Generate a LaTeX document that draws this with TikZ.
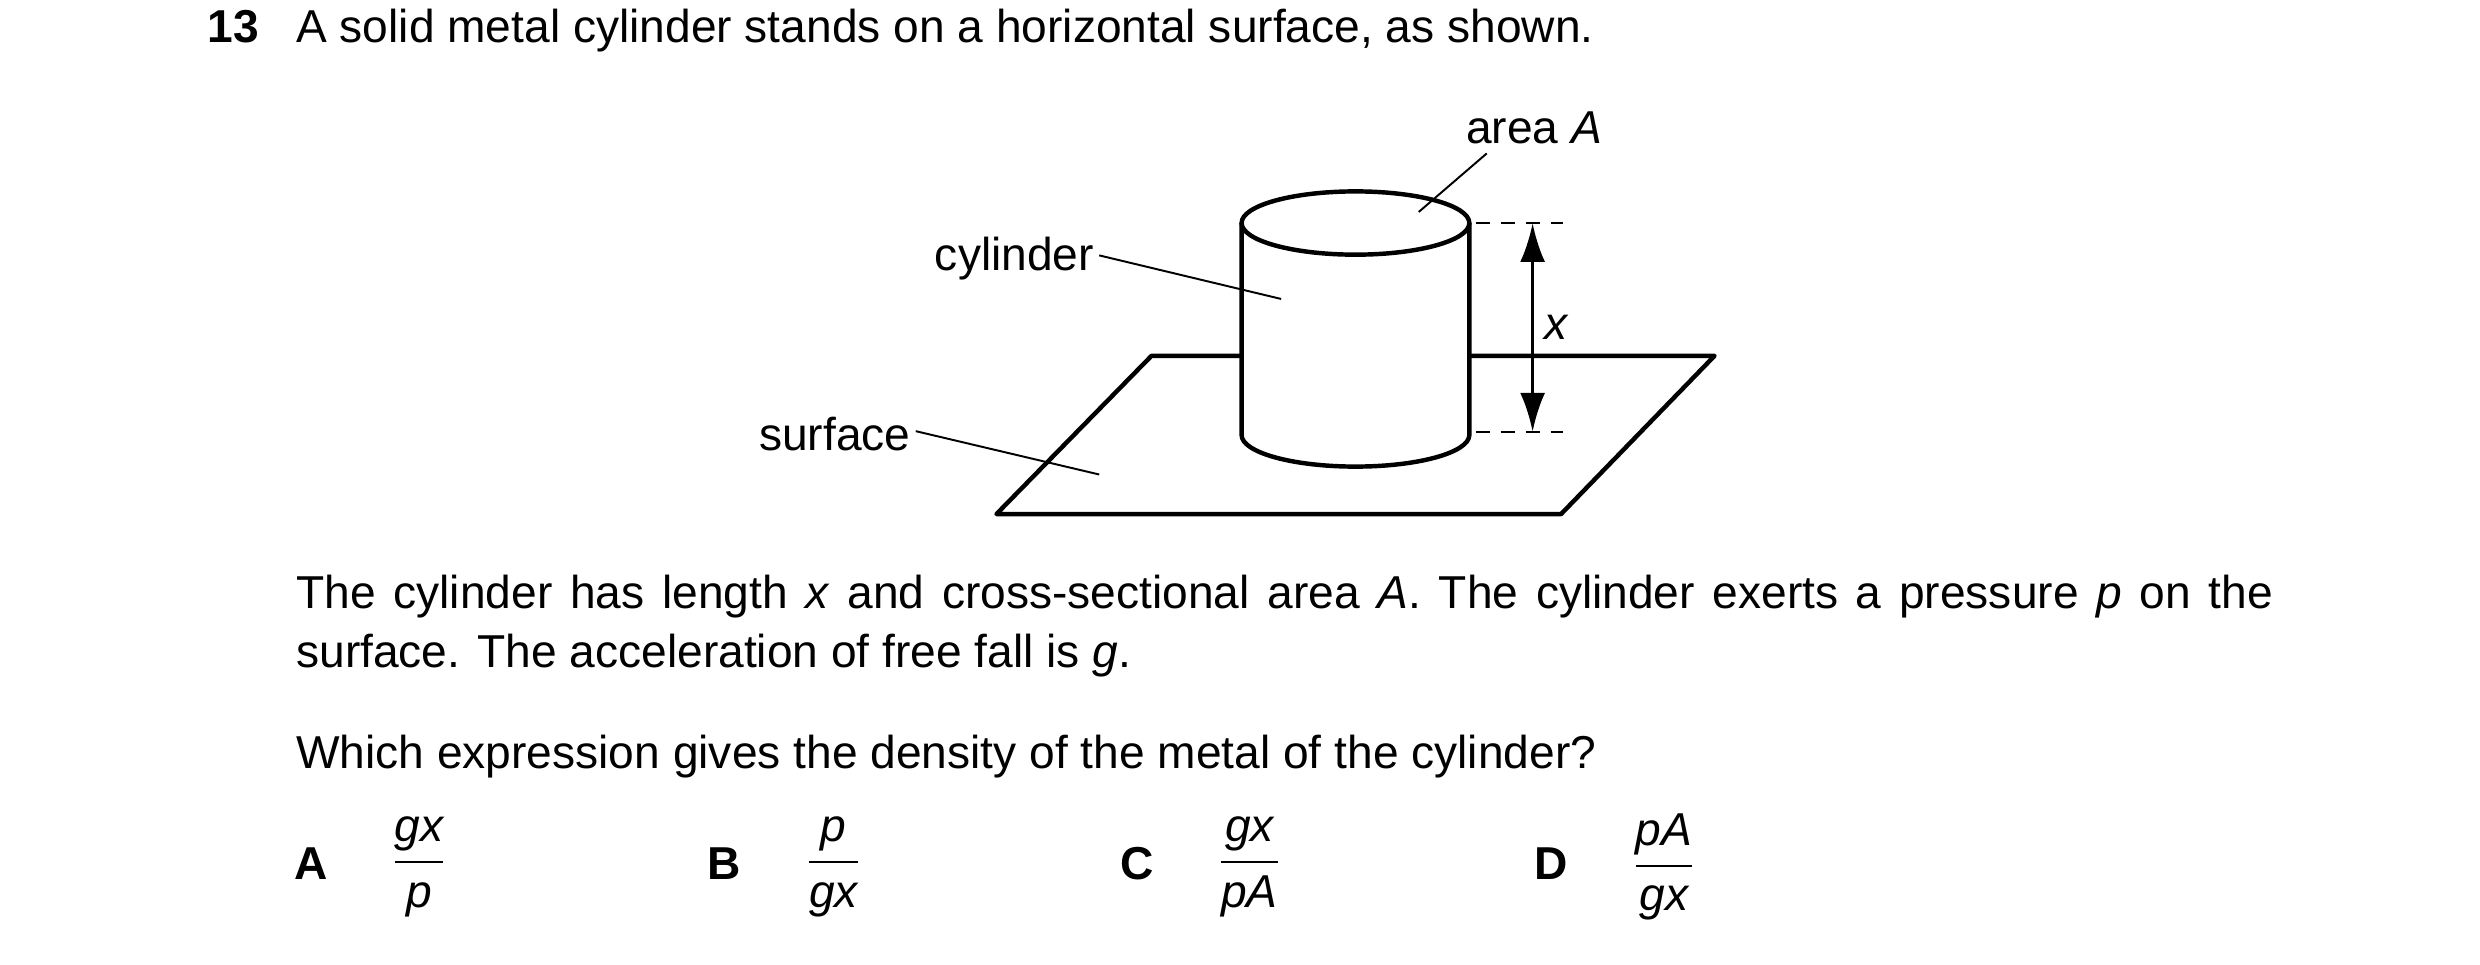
\documentclass[tikz,border=0pt]{standalone}
\usepackage{fontspec}
\setmainfont{Liberation Sans}
\usepackage{amsmath}
\usetikzlibrary{arrows.meta}
\begin{document}
\begin{tikzpicture}[x=0.02cm,y=-0.02cm,
  every node/.style={font=\fontsize{16.6}{20}\selectfont,inner sep=0pt},
  outline/.style={line width=1.6pt,line join=round},
  leader/.style={line width=0.7pt},
  dimline/.style={line width=0.7pt,dash pattern=on 5pt off 4pt},
  >=latex]
  \useasboundingbox (0,0) rectangle (1568,610);
  % heading
  \node[font=\fontsize{16.6}{20}\selectfont\bfseries,anchor=base west] (num) at (131,27) {13};
  \node[anchor=base west] (q) at (187,27) {A solid metal cylinder stands on a horizontal surface, as shown.};
  % surface
  \coordinate (s1) at (630,325); \coordinate (s2) at (987,325);
  \coordinate (s3) at (1084,225); \coordinate (s4) at (728,225);
  \draw[outline] (785,225) -- (s4) -- (s1) -- (s2) -- (s3) -- (929,225);
  % cylinder
  \draw[outline,fill=white] (785,141) -- (785,275) arc[start angle=180,end angle=0,x radius=72,y radius=20]
    -- (929,141);
  \draw[outline] (857,141) ellipse[x radius=72,y radius=20];
  % dimension
  \coordinate (t1) at (933,141); \coordinate (t2) at (988,141);
  \coordinate (b1) at (933,273); \coordinate (b2) at (988,273);
  \draw[dimline] (t1) -- (t2);
  \draw[dimline] (b1) -- (b2);
  \coordinate (at) at (969,141); \coordinate (ab) at (969,273);
  \draw[line width=1.3pt,<->,>={Latex[length=14pt,width=9pt]}] (at) -- (ab);
  \node[anchor=west] (xl) at (976,207) {\itshape x};
  % labels
  \node[anchor=base] (areal) at (970,91) {area \textit{A}};
  \coordinate (ap) at (897,134);
  \draw[leader] (940,97) -- (ap);
  \node[anchor=base east] (cyll) at (692,171) {cylinder};
  \coordinate (cp) at (810,189);
  \draw[leader] (cyll.east) ++(3,-2) -- (cp);
  \node[anchor=base east] (surfl) at (576,285) {surface};
  \coordinate (sp) at (695,300);
  \draw[leader] (surfl.east) ++(3,-2) -- (sp);
  % text
  \node[anchor=north west,text width=25cm,align=justify,font=\fontsize{16.6}{21.2}\selectfont] (para) at (187,363)
    {The cylinder has length \textit{x} and cross-sectional area \textit{A}. The cylinder exerts a pressure \textit{p} on the\linebreak surface. The acceleration of free fall is \textit{g}.};
  \node[anchor=base west] (which) at (187,486) {Which expression gives the density of the metal of the cylinder?};
  % options
  \foreach \lx/\fx/\lab/\num/\den in {197/265/A/gx/p, 458/527/B/p/gx, 719/790/C/gx/pA, 981/1052/D/pA/gx}{
    \node[font=\fontsize{16.6}{20}\selectfont\bfseries] (opt\lab) at (\lx,546) {\lab};
    \node (frac\lab) at (\fx,548) {$\dfrac{\mathit{\num}}{\mathit{\den}}$};
  }
\end{tikzpicture}
\end{document}
